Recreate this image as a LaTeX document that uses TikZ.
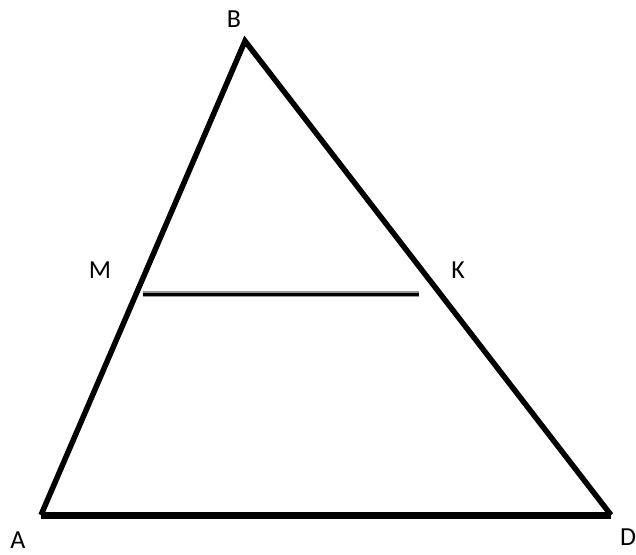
\documentclass[tikz,border=0pt]{standalone}
\usepackage{fontspec}
\setmainfont{Carlito}
\begin{document}
\begin{tikzpicture}[x=1pt,y=-1pt,
  side/.style={line width=5.5pt,line join=miter,black},
  lbl/.style={font=\fontsize{26}{26}\selectfont,inner sep=0pt}]
\useasboundingbox (0,0) rectangle (636,554);
\coordinate (B) at (245,41);
\coordinate (A) at (41,515);
\coordinate (D) at (611,515);
\coordinate (M) at (143,294);
\coordinate (K) at (419,294);
\draw[side] (A) -- (B) -- (D);
\draw[line width=7pt] (A) -- (D);
\draw[line width=6pt,gray!80] (M) -- (K);
\draw[line width=3pt,black] (M) -- (K);
\node[lbl] (lB) at (234,19) {B};
\node[lbl] (lM) at (100,270) {M};
\node[lbl] (lK) at (458,270) {K};
\node[lbl] (lA) at (18,540) {A};
\node[lbl] (lD) at (628,537) {D};
\end{tikzpicture}
\end{document}
